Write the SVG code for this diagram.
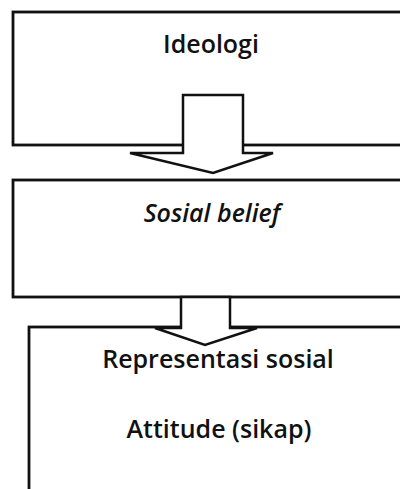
<svg xmlns="http://www.w3.org/2000/svg" width="400" height="489" viewBox="0 0 400 489">
<style>
.box{fill:#fff;stroke:#111;stroke-width:2.8}
.arr{fill:#fff;stroke:#111;stroke-width:2.5;stroke-linejoin:miter}
.t{font-family:"Open Sans","Liberation Sans",sans-serif;font-size:25px;font-weight:600;fill:#111;text-anchor:middle}
</style>
<rect width="400" height="489" fill="#fff"/>
<g id="node-ideologi">
<rect class="box" x="13" y="12" width="400" height="133"/>
<text class="t" x="211" y="53">Ideologi</text>
</g>
<g id="node-sosial-belief">
<rect class="box" x="13" y="180" width="400" height="117"/>
<text class="t" x="212" y="222" font-style="italic">Sosial belief</text>
</g>
<g id="node-representasi">
<rect class="box" x="29" y="327" width="400" height="180"/>
<text class="t" x="218" y="368">Representasi sosial</text>
<text class="t" x="219" y="438">Attitude (sikap)</text>
</g>
<g id="connectors">
<polygon class="arr" points="183,95 243,95 243,153 273,153 213,173 130,153 183,153"/>
<polygon class="arr" points="181,297 230,297 230,328 257,328 205,345 155,328 181,328"/>
</g>
</svg>
